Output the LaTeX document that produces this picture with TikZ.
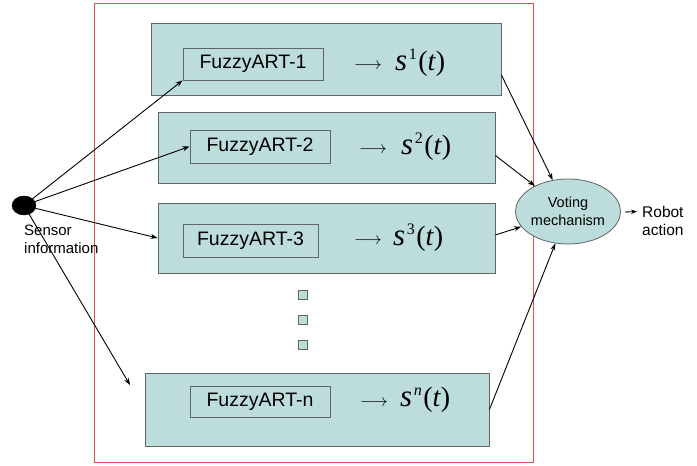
\documentclass[tikz,border=0pt]{standalone}
\usepackage{fontspec}
\setmainfont{Liberation Sans}
\newfontfamily\tnr{Liberation Serif}
\usetikzlibrary{arrows.meta,shapes.geometric}
\definecolor{boxfill}{HTML}{BDDCDC}
\definecolor{boxline}{HTML}{5E6666}
\definecolor{framered}{HTML}{D9534F}
\tikzset{
  module/.style={draw=boxline, fill=boxfill, line width=0.9pt, inner sep=0pt},
  artbox/.style={draw=boxline, fill=boxfill, line width=0.9pt, inner sep=0pt,
    font=\fontsize{19.5}{22}\selectfont},
  dotbox/.style={draw=boxline, fill=boxfill, line width=0.9pt, minimum size=9pt, inner sep=0pt},
  link/.style={draw=black, line width=0.9pt, -{Stealth[length=7pt,width=5pt]}},
  outsym/.style={font=\fontsize{28}{30}\selectfont\tnr, inner sep=0pt},
  maparrow/.style={font=\fontsize{17}{17}\selectfont, inner sep=0pt},
  lbl/.style={font=\fontsize{15}{18}\selectfont, align=left, inner sep=0pt}
}
\newcommand{\outsig}[1]{{\fontsize{31}{31}\selectfont\textit{s}}\kern1.5pt\raisebox{11pt}{\fontsize{16}{16}\selectfont #1}\kern1.5pt(\textit{t})}
\begin{document}
\begin{tikzpicture}[x=1pt,y=-1pt]
\useasboundingbox (0,0) rectangle (697,466);
\fill[white] (0,0) rectangle (697,466);

% enclosing frame
\draw[framered, line width=0.8pt] (94,3) rectangle (533,462);

% the FuzzyART modules
\node[module, minimum width=350pt, minimum height=72pt] (box1) at (326,59) {};
\node[module, minimum width=337pt, minimum height=71pt] (box2) at (326.5,147.5) {};
\node[module, minimum width=337pt, minimum height=70pt] (box3) at (326.5,238) {};
\node[module, minimum width=344pt, minimum height=73pt] (boxn) at (317,409.5) {};

\node[artbox, minimum width=140pt, minimum height=32pt] (in1) at (253,64) {FuzzyART-1};
\node[artbox, minimum width=140pt, minimum height=33pt] (in2) at (260,146.5) {FuzzyART-2};
\node[artbox, minimum width=135pt, minimum height=33pt] (in3) at (250.5,240.5) {FuzzyART-3};
\node[artbox, minimum width=140pt, minimum height=31pt] (inn) at (260,401.5) {FuzzyART-n};

\node[maparrow] (m1) at (368,66) {$\longrightarrow$};
\node[maparrow] (m2) at (373,150) {$\longrightarrow$};
\node[maparrow] (m3) at (368,241) {$\longrightarrow$};
\node[maparrow] (mn) at (374,403) {$\longrightarrow$};

\node[outsym, anchor=west] (s1) at (395,63) {\outsig{1}};
\node[outsym, anchor=west] (s2) at (401,147) {\outsig{2}};
\node[outsym, anchor=west] (s3) at (393,238) {\outsig{3}};
\node[outsym, anchor=west] (sn) at (400,400) {\outsig{\textit{n}}};

% ellipsis between the modules
\node[dotbox] (d1) at (303,295) {};
\node[dotbox] (d2) at (303,320) {};
\node[dotbox] (d3) at (303,345) {};

% sensor input
\node[ellipse, fill=black, draw=black, minimum width=24pt, minimum height=19pt, inner sep=0pt] (sensor) at (24,205.5) {};
\node[lbl, anchor=north west] (slabel) at (24,225) {Sensor\\information};

% voting and output
\node[ellipse, draw=boxline, fill=boxfill, line width=0.8pt, minimum width=84pt, minimum height=65pt, inner sep=0pt,
  font=\fontsize{14.5}{18}\selectfont, align=center] (vote) at (568,211.5) {Voting\\mechanism};
\node[lbl, anchor=west, font=\fontsize{15.5}{18}\selectfont] (robot) at (642,221) {Robot\\action};

\coordinate (nin) at (130,385);
\draw[link] (sensor) -- (in1.south west);
\draw[link] (sensor) -- (in2.west);
\draw[link] (sensor) -- (box3.west);
\draw[link] (sensor) -- (nin);

\draw[link] ([yshift=-16pt]box1.east) -- (vote);
\draw[link] ([yshift=-8pt]box2.east) -- (vote);
\draw[link] ([yshift=3pt]box3.east) -- (vote);
\draw[link] (boxn.east) -- (vote);
\draw[line width=0.9pt, -{Stealth[length=6pt,width=4.5pt]}] ([xshift=4pt,yshift=-0.5pt]vote.east) -- ([xshift=-5pt]robot.west |- vote.east);
\end{tikzpicture}
\end{document}
